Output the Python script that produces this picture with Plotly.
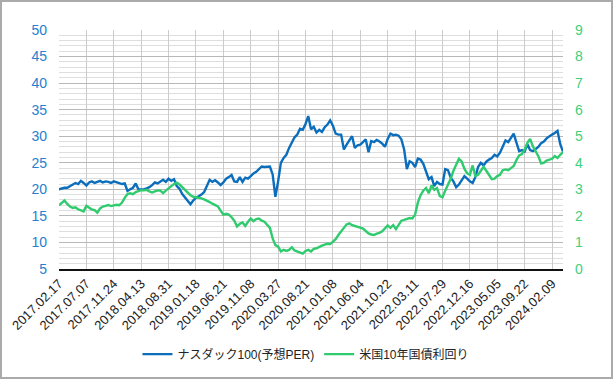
import plotly.graph_objects as go

# Tick labels (every 20 weekly observations on a category-style axis)
tick_labels = ["2017.02.17", "2017.07.07", "2017.11.24", "2018.04.13", "2018.08.31",
               "2019.01.18", "2019.06.21", "2019.11.08", "2020.03.27", "2020.08.21",
               "2021.01.08", "2021.06.04", "2021.10.22", "2022.03.11", "2022.07.29",
               "2022.12.16", "2023.05.05", "2023.09.22", "2024.02.09"]
tick_positions = [0, 20, 40, 60, 80, 100, 120, 140, 160, 180, 200, 220, 240, 260,
                  280, 300, 320, 340, 360]

# observation index (every 2nd weekly observation)
obs_index = list(range(0, 369, 2))

nasdaq_per = [
    20.0, 20.2, 20.3, 20.3, 20.6, 20.8, 21.2, 21.0, 21.6, 21.2, 20.7,
    21.3, 21.5, 21.2, 21.4, 21.6, 21.3, 21.5, 21.4, 21.2, 21.5,
    21.3, 21.2, 21.0, 21.1, 19.7, 20.0, 20.3, 21.1, 20.0, 20.0,
    20.0, 20.2, 20.4, 20.8, 21.3, 21.1, 21.5, 21.8, 21.4, 22.0,
    21.6, 21.9, 20.6, 20.1, 19.1, 18.5, 18.0, 17.2, 17.9, 18.4,
    18.7, 19.0, 19.5, 20.6, 21.8, 21.4, 21.7, 21.3, 20.8, 21.3,
    22.0, 22.3, 22.7, 21.5, 21.4, 22.3, 21.4, 22.2, 22.0, 22.5,
    23.0, 23.3, 23.9, 24.3, 24.2, 24.3, 24.3, 22.8, 18.6, 21.5,
    25.0, 25.9, 26.5, 27.8, 28.8, 29.8, 30.3, 31.4, 31.2, 32.3,
    33.8, 31.3, 31.8, 30.7, 31.2, 30.8, 31.7, 32.2, 33.0, 32.0,
    30.5, 30.3, 30.3, 27.5, 28.4, 29.2, 30.0, 27.8, 28.3, 28.4,
    29.0, 29.4, 27.0, 29.1, 28.9, 29.3, 29.0, 28.6, 28.0, 29.5,
    30.5, 30.2, 30.3, 30.1, 29.4, 27.5, 23.8, 25.3, 25.0, 24.2,
    25.8, 25.6, 24.8, 23.3, 21.9, 22.3, 20.6, 21.4, 21.0, 20.9,
    23.8, 23.6, 22.2, 21.5, 20.4, 20.9, 21.8, 22.5, 22.0, 21.5,
    21.2, 22.3, 24.2, 25.0, 24.5, 25.2, 25.6, 25.9, 26.5, 26.2,
    26.9, 28.0, 29.2, 28.9, 29.6, 30.5, 28.8, 27.2, 27.4, 27.1,
    28.5, 27.4, 27.2, 27.6, 28.0, 28.7, 29.0, 29.6, 30.0, 30.3,
    30.6, 31.0, 28.5, 27.1,
]

us10y = [
    2.40, 2.50, 2.58, 2.45, 2.35, 2.30, 2.32, 2.25, 2.22, 2.17, 2.38,
    2.30, 2.24, 2.22, 2.12, 2.28, 2.35, 2.38, 2.41, 2.37, 2.40,
    2.42, 2.40, 2.50, 2.68, 2.82, 2.85, 2.82, 2.90, 2.94, 2.97,
    2.96, 2.98, 2.92, 2.88, 2.92, 2.96, 2.95, 2.86, 2.95, 3.05,
    3.12, 3.20, 3.25, 3.18, 3.08, 2.98, 2.90, 2.78, 2.72, 2.70,
    2.70, 2.66, 2.62, 2.58, 2.52, 2.46, 2.40, 2.36, 2.20, 2.05,
    2.08, 2.05, 1.95, 1.82, 1.60, 1.70, 1.75, 1.62, 1.78, 1.90,
    1.80, 1.88, 1.90, 1.82, 1.78, 1.66, 1.55, 1.15, 0.90, 0.84,
    0.66, 0.72, 0.68, 0.72, 0.82, 0.70, 0.66, 0.62, 0.58, 0.68,
    0.72, 0.66, 0.76, 0.78, 0.84, 0.88, 0.92, 0.95, 0.94, 1.05,
    1.12, 1.28, 1.40, 1.55, 1.68, 1.72, 1.65, 1.62, 1.60, 1.56,
    1.52, 1.42, 1.34, 1.30, 1.28, 1.33, 1.36, 1.42, 1.55, 1.64,
    1.55, 1.65, 1.50, 1.65, 1.82, 1.85, 1.88, 1.92, 1.90, 2.05,
    2.50, 2.78, 2.95, 3.05, 2.85, 3.15, 2.98, 3.05, 2.75, 2.70,
    2.95, 3.15, 3.40, 3.70, 3.90, 4.15, 4.05, 3.78, 3.60, 3.55,
    3.90, 3.50, 3.55, 3.72, 3.85, 3.70, 3.55, 3.38, 3.40, 3.50,
    3.55, 3.72, 3.75, 3.72, 3.80, 3.88, 4.10, 4.28, 4.33, 4.50,
    4.75, 4.90, 4.62, 4.45, 4.25, 3.98, 4.00, 4.08, 4.12, 4.15,
    4.25, 4.18, 4.30, 4.40,
]

BLUE = "#0A6EBD"
GREEN = "#2FCB6E"

fig = go.Figure()
fig.add_trace(go.Scatter(x=obs_index, y=nasdaq_per, name="ナスダック100(予想PER)",
                         mode="lines", line=dict(color=BLUE, width=2.4), yaxis="y"))
fig.add_trace(go.Scatter(x=obs_index, y=us10y, name="米国10年国債利回り",
                         mode="lines", line=dict(color=GREEN, width=2.4), yaxis="y2"))

FONT = "Liberation Sans, Arial, Noto Sans CJK JP, sans-serif"

fig.update_layout(
    width=615, height=380,
    margin=dict(l=59, r=52, t=30, b=111, autoexpand=False),
    paper_bgcolor="white", plot_bgcolor="white",
    font=dict(family=FONT, size=12, color="#333333"),
    showlegend=True,
    legend=dict(orientation="h", x=0.49, xanchor="center", y=-0.356, yanchor="middle",
                font=dict(size=12, color="#222222"), itemwidth=30),
    xaxis=dict(
        range=[0, 368], tickmode="array", tickvals=tick_positions, ticktext=tick_labels,
        tickangle=-45, tickfont=dict(size=13, color="#222222"),
        showgrid=True, gridcolor="#cccccc", gridwidth=1,
        showline=True, linecolor="#111111", linewidth=2,
        zeroline=False, ticks="", automargin=False,
    ),
    yaxis=dict(
        range=[5, 50], dtick=5, tick0=5, tickfont=dict(size=14, color="#2680CF"),
        showgrid=True, gridcolor="#b8b8b8", gridwidth=1,
        minor=dict(dtick=1, tick0=5, showgrid=True, gridcolor="#dedede", gridwidth=1),
        zeroline=False, showline=False, ticks="", automargin=False,
        ticklabelstandoff=11,
    ),
    yaxis2=dict(
        range=[0, 9], dtick=1, overlaying="y", side="right",
        tickfont=dict(size=14, color="#3FD07C"),
        showgrid=False, zeroline=False, showline=False, ticks="", automargin=False,
        ticklabelstandoff=11,
    ),
    shapes=[dict(type="rect", xref="paper", yref="paper",
                 x0=-0.1151, x1=1.0972, y0=-0.4561, y1=1.1213,
                 line=dict(color="#aaaaaa", width=2), fillcolor="rgba(0,0,0,0)", layer="below")],
)

fig.write_html("out.html", config={"displayModeBar": False},
               post_script="document.body.style.margin='0';document.body.style.overflow='hidden';")
